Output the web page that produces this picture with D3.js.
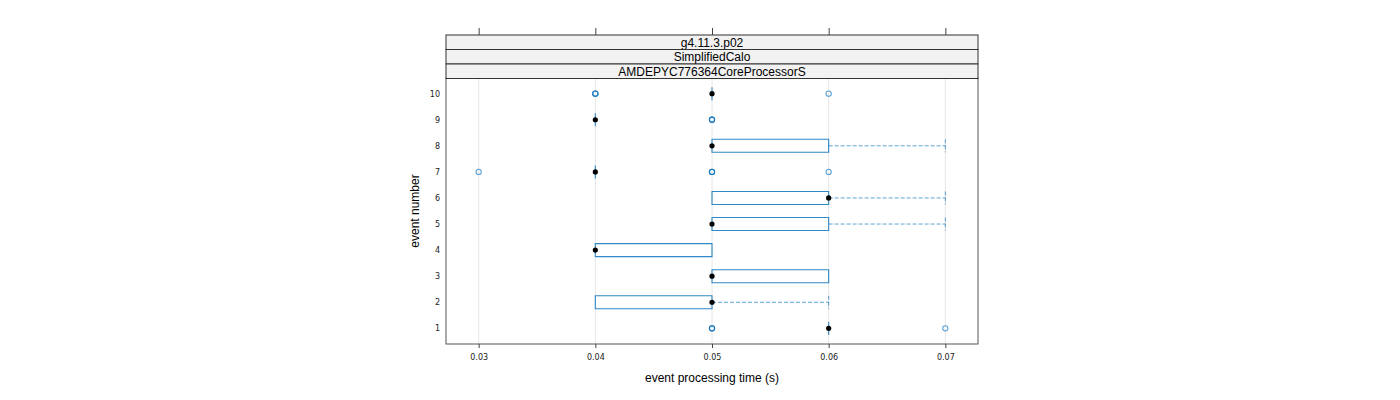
<!DOCTYPE html>
<html><head><meta charset="utf-8">
<script src="https://cdn.jsdelivr.net/npm/d3@7"></script>
<style>body{margin:0;background:#fff}svg{display:block;font-family:"Liberation Sans",Arial,sans-serif}</style>
</head><body>
<svg id="c" width="1400" height="400"></svg>
<script>
const events = [1,2,3,4,5,6,7,8,9,10];
const q1 =        [0.06,0.04,0.05,0.04,0.05,0.05,0.04,0.05,0.04,0.05];
const medians =   [0.06,0.05,0.05,0.04,0.05,0.06,0.04,0.05,0.04,0.05];
const q3 =        [0.06,0.05,0.06,0.05,0.06,0.06,0.04,0.06,0.04,0.05];
const whiskerLo = [0.06,0.04,0.05,0.04,0.05,0.05,0.04,0.05,0.04,0.05];
const whiskerHi = [0.06,0.06,0.06,0.05,0.07,0.07,0.04,0.07,0.04,0.05];
const outliers = [[0.05,0.05,0.05,0.07],[],[],[],[],[],[0.03,0.05,0.05,0.05,0.06],[],[0.05,0.05,0.05],[0.04,0.04,0.04,0.06]];
const xTicks = [0.03,0.04,0.05,0.06,0.07];
const strips = ["g4.11.3.p02","SimplifiedCalo","AMDEPYC776364CoreProcessorS"];
const xTitle = "event processing time (s)";
const yTitle = "event number";

const svg = d3.select("#c");
const L=446, R=978, T=78, B=344;
const x = d3.scaleLinear().domain([0.0272,0.0728]).range([L,R]);
const y = d3.scaleLinear().domain([10.6,0.4]).range([T,B]);
const col = "#1a7cc0";

svg.append("g").selectAll("line").data(xTicks).join("line")
  .attr("x1",d=>x(d)).attr("x2",d=>x(d)).attr("y1",T).attr("y2",B)
  .attr("stroke","#e6e6e6").attr("stroke-width",1);

const bh = 13;
const g = svg.append("g");
events.forEach((ev,i)=>{
  const cy = y(ev);
  if (whiskerHi[i] > q3[i]) {
    g.append("line").attr("x1",x(q3[i])).attr("x2",x(whiskerHi[i])).attr("y1",cy).attr("y2",cy)
      .attr("stroke",col).attr("stroke-opacity",0.7).attr("stroke-dasharray","4,2");
    g.append("line").attr("x1",x(whiskerHi[i])).attr("x2",x(whiskerHi[i])).attr("y1",cy-bh/2).attr("y2",cy+bh/2)
      .attr("stroke",col).attr("stroke-opacity",0.7).attr("stroke-dasharray","4,2");
  }
  if (whiskerLo[i] < q1[i]) {
    g.append("line").attr("x1",x(whiskerLo[i])).attr("x2",x(q1[i])).attr("y1",cy).attr("y2",cy)
      .attr("stroke",col).attr("stroke-opacity",0.7).attr("stroke-dasharray","4,2");
    g.append("line").attr("x1",x(whiskerLo[i])).attr("x2",x(whiskerLo[i])).attr("y1",cy-bh/2).attr("y2",cy+bh/2)
      .attr("stroke",col).attr("stroke-opacity",0.7).attr("stroke-dasharray","4,2");
  }
  const x1 = x(q1[i]), x2 = x(q3[i]), y1 = cy-bh/2, y2 = cy+bh/2;
  g.append("path").attr("d",`M${x1},${y1}H${x2}V${y2}H${x1}Z`)
    .attr("fill","none").attr("stroke",col).attr("stroke-opacity",0.9).attr("stroke-width",1.1);
  outliers[i].forEach(v=>{
    g.append("circle").attr("cx",x(v)).attr("cy",cy).attr("r",2.6)
      .attr("fill","none").attr("stroke",col).attr("stroke-opacity",0.7).attr("stroke-width",1.1);
  });
  g.append("circle").attr("cx",x(medians[i])).attr("cy",cy).attr("r",2.6).attr("fill","#000");
});

svg.append("rect").attr("x",L).attr("y",T).attr("width",R-L).attr("height",B-T)
  .attr("fill","none").attr("stroke","#555").attr("stroke-width",1);

const sh = 14.5;
strips.forEach((s,k)=>{
  const sy = 35 + k*sh;
  svg.append("rect").attr("x",L).attr("y",sy).attr("width",R-L).attr("height",sh)
    .attr("fill","#f2f2f2").attr("stroke","#333").attr("stroke-width",1);
  svg.append("text").attr("x",(L+R)/2).attr("y",sy+sh/2+4.3).attr("text-anchor","middle")
    .attr("font-size",12).attr("fill","#000").text(s);
});

const axB = d3.axisBottom(x).tickValues(xTicks).tickSize(4).tickPadding(6).tickFormat(d3.format(".2f"));
const bg = svg.append("g").attr("transform",`translate(0,${B})`).call(axB);
bg.select(".domain").remove();
bg.selectAll("line").attr("stroke","#444");
bg.selectAll("text").attr("font-size",8).attr("font-family","'DejaVu Sans',sans-serif").attr("fill","#222");

const axT = d3.axisTop(x).tickValues(xTicks).tickSize(7).tickFormat("");
const tg = svg.append("g").attr("transform","translate(0,35)").call(axT);
tg.select(".domain").remove();
tg.selectAll("line").attr("stroke","#444");

const axL = d3.axisLeft(y).tickValues(events).tickSize(0).tickPadding(6);
const lg = svg.append("g").attr("transform",`translate(${L},0)`).call(axL);
lg.select(".domain").remove();
lg.selectAll("text").attr("font-size",8).attr("font-family","'DejaVu Sans',sans-serif").attr("fill","#222");

svg.append("text").attr("x",(L+R)/2).attr("y",382).attr("text-anchor","middle").attr("font-size",12).text(xTitle);
svg.append("text").attr("transform",`translate(419,${(T+B)/2}) rotate(-90)`).attr("text-anchor","middle").attr("font-size",12).text(yTitle);
</script>
</body></html>
